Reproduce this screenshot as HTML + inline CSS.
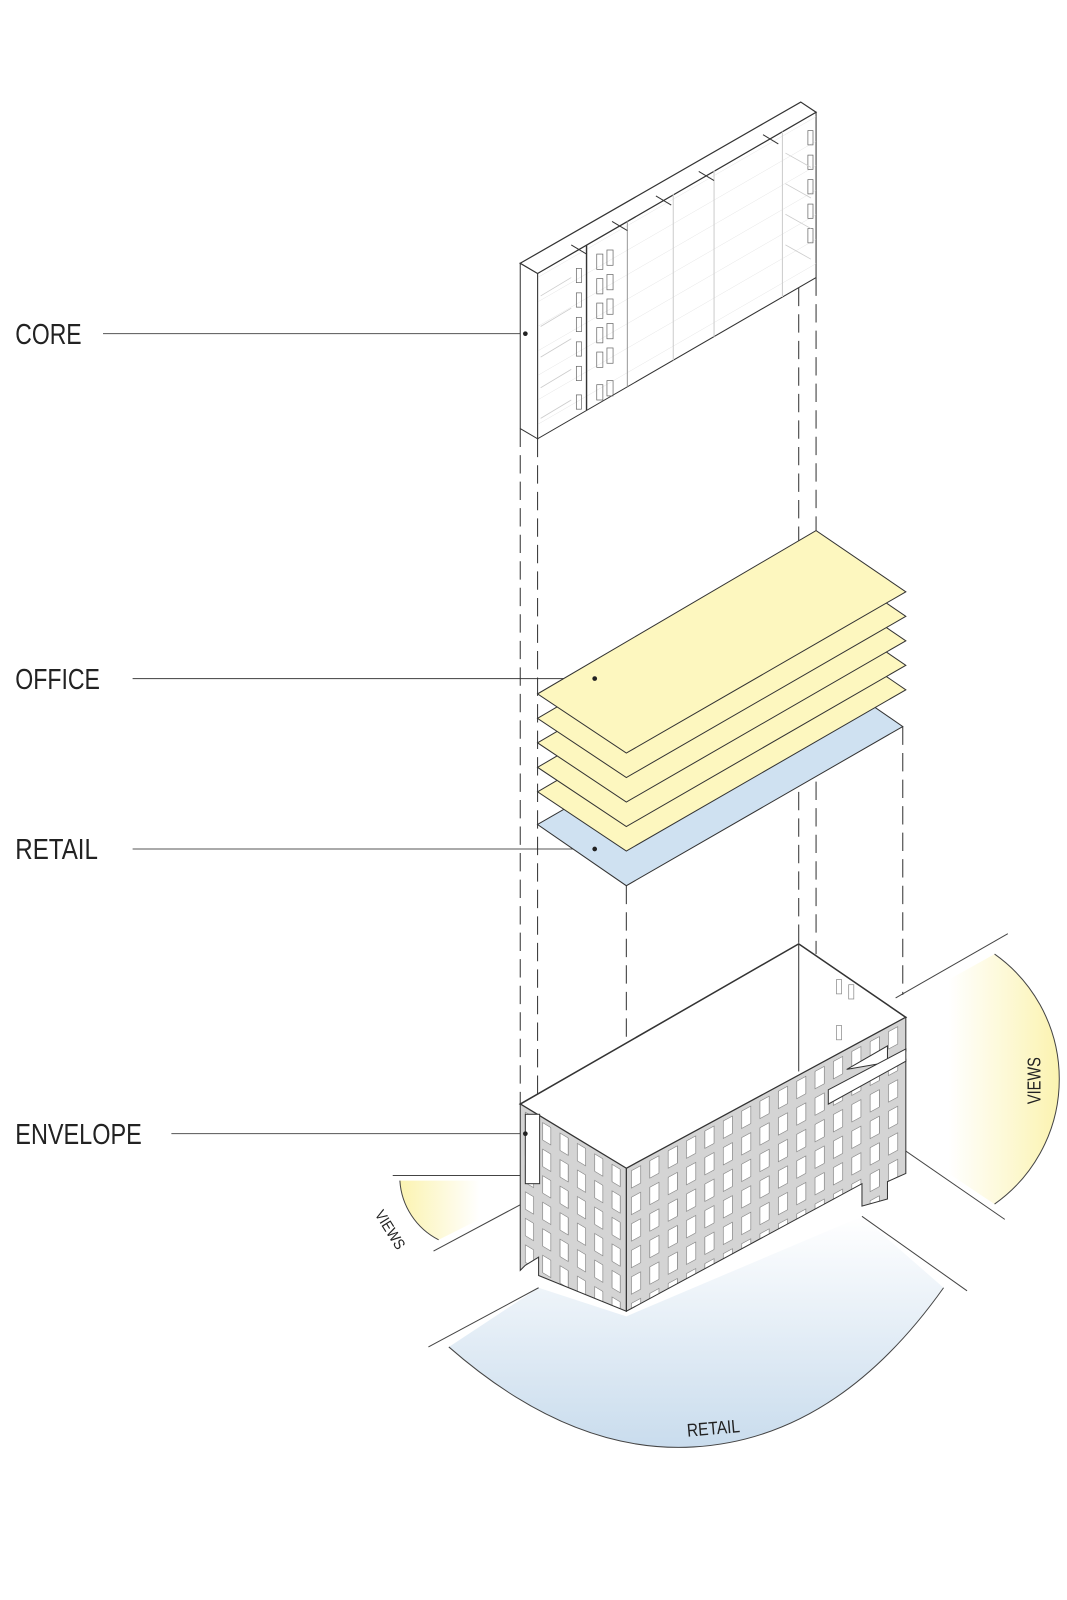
<!DOCTYPE html>
<html><head><meta charset="utf-8"><style>
html,body{margin:0;padding:0;background:#fff;}
svg{display:block;}
text{font-family:"Liberation Sans",sans-serif;fill:#222;}
</style></head><body>
<svg width="1067" height="1600" viewBox="0 0 1046 1568" preserveAspectRatio="none" xmlns="http://www.w3.org/2000/svg">
<defs>
<pattern id="winR" width="18" height="26" patternUnits="userSpaceOnUse" patternTransform="translate(614,1145) skewY(-28.4)">
<rect x="0" y="0" width="18" height="26" fill="#d4d4d4"/>
<rect x="5" y="5" width="9" height="17" fill="#fff" stroke="#777" stroke-width="0.6"/>
</pattern>
<pattern id="winL" width="17" height="26" patternUnits="userSpaceOnUse" patternTransform="translate(510,1082) skewY(31)">
<rect x="0" y="0" width="17" height="26" fill="#d4d4d4"/>
<rect x="5" y="5" width="8" height="17" fill="#fff" stroke="#777" stroke-width="0.6"/>
</pattern>
<linearGradient id="gY" x1="0" x2="1" y1="0" y2="0"><stop offset="0" stop-color="#fff"/><stop offset="1" stop-color="#fbf3b0"/></linearGradient>
<linearGradient id="gY2" x1="1" x2="0" y1="0" y2="0"><stop offset="0" stop-color="#fff"/><stop offset="1" stop-color="#fbf3b0"/></linearGradient>
<linearGradient id="gB" x1="0" x2="0" y1="0" y2="1"><stop offset="0" stop-color="#fff"/><stop offset="1" stop-color="#c9dced"/></linearGradient>
<pattern id="coreLines" width="40" height="24" patternUnits="userSpaceOnUse" patternTransform="skewY(-30)">
<line x1="0" y1="0" x2="40" y2="0" stroke="#ddd" stroke-width="0.8"/>
</pattern>
</defs>

<!-- labels -->
<text x="15" y="337" font-size="28" textLength="65" lengthAdjust="spacingAndGlyphs">CORE</text>
<line x1="101" y1="327" x2="515" y2="327" stroke="#555" stroke-width="1"/>
<text x="15" y="675" font-size="28" textLength="83" lengthAdjust="spacingAndGlyphs">OFFICE</text>
<line x1="130" y1="665" x2="583" y2="665" stroke="#555" stroke-width="1"/>
<text x="15" y="842" font-size="28" textLength="81" lengthAdjust="spacingAndGlyphs">RETAIL</text>
<line x1="130" y1="832" x2="583" y2="832" stroke="#555" stroke-width="1"/>
<text x="15" y="1121" font-size="28" textLength="124" lengthAdjust="spacingAndGlyphs">ENVELOPE</text>
<line x1="168" y1="1111" x2="515" y2="1111" stroke="#555" stroke-width="1"/>

<!-- dashed projection lines -->
<g stroke="#333" stroke-width="1" stroke-dasharray="18,8" fill="none">
<line x1="510" y1="420" x2="510" y2="1082"/>
<line x1="527" y1="430" x2="527" y2="1092"/>
<line x1="783" y1="282" x2="783" y2="925"/>
<line x1="800" y1="272" x2="800" y2="935"/>
<line x1="614" y1="868" x2="614" y2="1145"/>
<line x1="885" y1="712" x2="885" y2="975"/>
</g>

<!-- CORE -->
<g stroke="#333" stroke-width="1">
<polygon points="527,268 800,110 800,272 527,430" fill="#fff"/>
<polygon points="527,268 800,110 800,272 527,430" fill="url(#coreLines)" stroke="none"/>
<polygon points="510,258 527,268 527,430 510,420" fill="#fff"/>
<polygon points="510,258 785,100 800,110 527,268" fill="#fff" stroke-width="1.2"/>
<line x1="575" y1="240" x2="575" y2="402" stroke-width="1.4"/>
<line x1="615" y1="217" x2="615" y2="379" stroke="#999"/>
<line x1="660" y1="190" x2="660" y2="353" stroke="#ccc"/>
<line x1="700" y1="167" x2="700" y2="330" stroke="#ccc"/>
<line x1="767" y1="129" x2="767" y2="291" stroke="#ccc"/>
<line x1="560" y1="240" x2="575" y2="249"/>
<line x1="600" y1="217" x2="615" y2="226"/>
<line x1="643" y1="192" x2="658" y2="201"/>
<line x1="685" y1="168" x2="700" y2="177"/>
<line x1="748" y1="132" x2="763" y2="141"/>
</g>
<g fill="none" stroke="#666" stroke-width="0.7">
<rect x="565" y="263" width="5" height="14"/><rect x="565" y="287" width="5" height="14"/><rect x="565" y="311" width="5" height="14"/><rect x="565" y="335" width="5" height="14"/><rect x="565" y="359" width="5" height="14"/><rect x="565" y="387" width="5" height="14"/>
<rect x="585" y="249" width="6" height="15"/><rect x="595" y="245" width="6" height="15"/>
<rect x="585" y="273" width="6" height="15"/><rect x="595" y="269" width="6" height="15"/>
<rect x="585" y="297" width="6" height="15"/><rect x="595" y="293" width="6" height="15"/>
<rect x="585" y="321" width="6" height="15"/><rect x="595" y="317" width="6" height="15"/>
<rect x="585" y="345" width="6" height="15"/><rect x="595" y="341" width="6" height="15"/>
<rect x="585" y="377" width="6" height="15"/><rect x="595" y="373" width="6" height="15"/>
<rect x="792" y="128" width="5" height="14"/><rect x="792" y="152" width="5" height="14"/><rect x="792" y="176" width="5" height="14"/><rect x="792" y="200" width="5" height="14"/><rect x="792" y="224" width="5" height="14"/>
</g>
<g stroke="#ccc" stroke-width="0.8" fill="none">
<path d="M530,290 l30,-18 M530,320 l30,-18 M530,350 l30,-18 M530,380 l30,-18 M530,410 l30,-18"/>
<path d="M770,150 l25,14 M770,180 l25,14 M770,210 l25,14 M770,240 l25,14"/>
</g>

<!-- RETAIL plate -->
<polygon points="527,808 798,652 885,712 614,868" fill="#cfe1f1" stroke="#333" stroke-width="1"/>
<!-- OFFICE plates -->
<g fill="#fdf7bf" stroke="#333" stroke-width="1">
<polygon points="527,776 800,616 888,676 614,834"/>
<polygon points="527,752 800,592 888,652 614,810"/>
<polygon points="527,728 800,568 888,628 614,786"/>
<polygon points="527,704 800,544 888,604 614,762"/>
<polygon points="527,680 800,520 888,580 614,738"/>
</g>
<circle cx="583" cy="665" r="2.3" fill="#222"/>
<circle cx="583" cy="832" r="2.3" fill="#222"/>
<circle cx="515" cy="327" r="2.3" fill="#222"/>

<!-- VIEWS right -->
<path d="M930,960 L975,935 A150,150 0 0 1 975,1180 L930,1150 Z" fill="url(#gY)" stroke="none"/>
<path d="M975,935 A150,150 0 0 1 975,1180" fill="none" stroke="#444" stroke-width="1"/>
<line x1="878" y1="978" x2="988" y2="915" stroke="#444"/>
<line x1="830" y1="1088" x2="985" y2="1195" stroke="#444"/>
<text x="0" y="0" font-size="18" textLength="46" lengthAdjust="spacingAndGlyphs" transform="translate(1020,1082) rotate(-90)">VIEWS</text>

<!-- VIEWS left -->
<path d="M392,1157 L470,1157 L470,1195 L430,1215 A70,70 0 0 1 392,1157 Z" fill="url(#gY2)" stroke="none"/>
<path d="M392,1157 A70,70 0 0 0 430,1215" fill="none" stroke="#444"/>
<line x1="385" y1="1152" x2="512" y2="1152" stroke="#444"/>
<line x1="425" y1="1226" x2="515" y2="1178" stroke="#444"/>
<text x="0" y="0" font-size="15" textLength="42" lengthAdjust="spacingAndGlyphs" transform="translate(367,1190) rotate(58)">VIEWS</text>

<!-- RETAIL arc -->
<path d="M440,1320 Q560,1425 680,1418 Q820,1410 925,1262 L845,1192 L614,1290 L528,1262 Z" fill="url(#gB)" stroke="none"/>
<path d="M440,1320 Q560,1425 680,1418 Q820,1410 925,1262" fill="none" stroke="#444"/>
<line x1="420" y1="1320" x2="528" y2="1262" stroke="#444"/>
<line x1="845" y1="1192" x2="948" y2="1265" stroke="#444"/>
<text x="0" y="0" font-size="18" textLength="52" lengthAdjust="spacingAndGlyphs" transform="translate(674,1408) rotate(-5)">RETAIL</text>

<!-- ENVELOPE -->
<g stroke="#333" stroke-width="1">
<polygon points="510,1082 783,925 888,997 614,1145" fill="#fff" stroke-width="1.5"/>
<line x1="783" y1="925" x2="783" y2="1050"/>
<polygon points="614,1145 888,997 888,1030 870,1040 870,1025 830,1048 888,1038 888,1150 870,1158 870,1175 845,1182 845,1160 614,1285" fill="url(#winR)"/>
<polygon points="812,1068 888,1028 888,1040 812,1082" fill="#fff"/>
<polygon points="510,1082 614,1145 614,1285 528,1250 528,1232 515,1240 510,1245" fill="url(#winL)"/>
<rect x="515" y="1092" width="14" height="68" fill="#fff"/>
<line x1="614" y1="1145" x2="614" y2="1285"/>
</g>
<circle cx="515" cy="1111" r="2.3" fill="#222"/>
<g fill="none" stroke="#888" stroke-width="0.7">
<rect x="820" y="960" width="5" height="14"/><rect x="832" y="965" width="5" height="14"/><rect x="820" y="1005" width="5" height="14"/>
</g>
</svg>
</body></html>
